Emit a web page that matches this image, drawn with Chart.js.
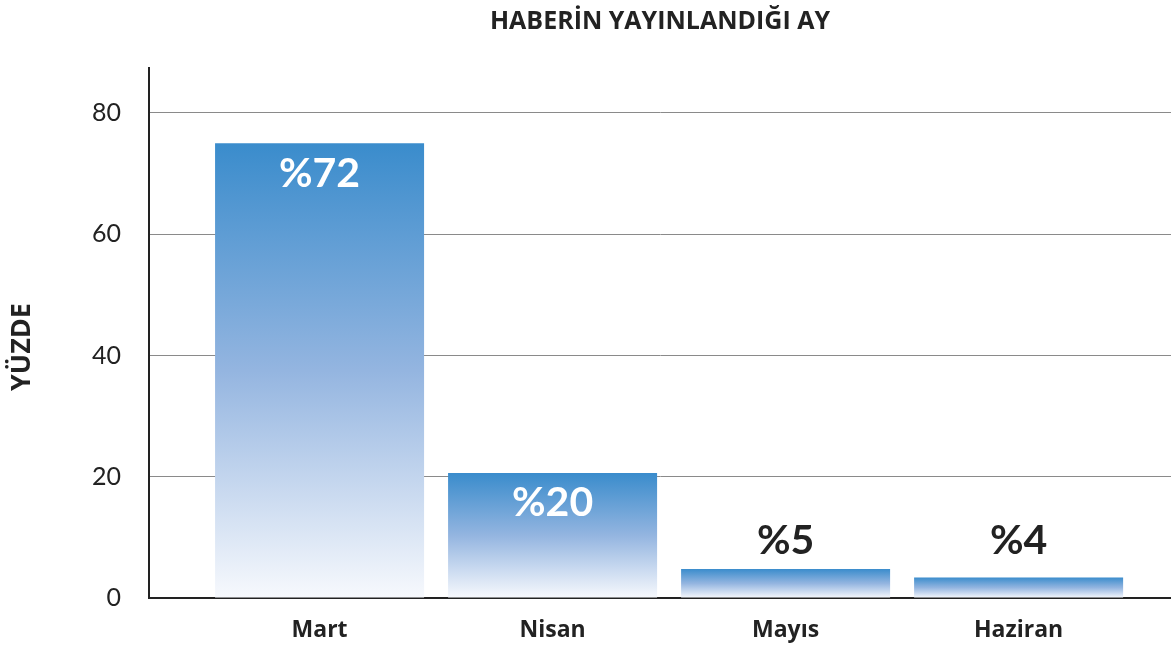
<!DOCTYPE html>
<html lang="tr">
<head>
<meta charset="utf-8">
<script src="https://cdn.jsdelivr.net/npm/chart.js@4"></script>
<style>
  html, body { margin: 0; padding: 0; background: #fff; }
  #kutu { width: 1171px; height: 646px; }
</style>
</head>
<body>
<div id="kutu"><canvas id="grafikAy"></canvas></div>
<script>
// Veriler
const aylar = ['Mart', 'Nisan', 'Mayıs', 'Haziran'];
const yuzdeler = [75, 20.6, 4.8, 3.4];
const etiketler = ['%72', '%20', '%5', '%4'];
const yTikleri = [0, 20, 40, 60, 80];

const yaziTipi = 'Lato, "Open Sans", sans-serif';
const kalinYazi = '"Open Sans", Lato, sans-serif';

// Çubuk içi / üstü yüzde etiketleri
const etiketEklentisi = {
  id: 'etiketEklentisi',
  afterDatasetsDraw(chart) {
    const { ctx, scales } = chart;
    const meta = chart.getDatasetMeta(0);
    ctx.save();
    ctx.font = 'bold 41px ' + yaziTipi;
    ctx.textAlign = 'center';
    ctx.textBaseline = 'middle';
    meta.data.forEach((bar, i) => {
      if (yuzdeler[i] > 15) {
        ctx.fillStyle = '#ffffff';
        ctx.fillText(etiketler[i], bar.x, bar.y + 30);
      } else {
        ctx.fillStyle = '#222222';
        ctx.fillText(etiketler[i], bar.x, scales.y.getPixelForValue(9.4));
      }
    });
    ctx.restore();
  }
};

const ctx = document.getElementById('grafikAy').getContext('2d');

new Chart(ctx, {
  type: 'bar',
  data: {
    datasets: [{
      data: yuzdeler.map((v, i) => ({ x: i, y: v })),
      backgroundColor: (c) => {
        const chart = c.chart;
        if (!chart.chartArea || c.type !== 'data') return '#3a8ccc';
        const y = chart.scales.y;
        const ust = y.getPixelForValue(c.raw.y);
        const alt = y.getPixelForValue(0);
        const g = chart.ctx.createLinearGradient(0, ust, 0, alt);
        g.addColorStop(0, '#3a8ccc');
        g.addColorStop(0.5, '#94b5e0');
        g.addColorStop(1, '#f7f9fd');
        return g;
      },
      borderWidth: 0,
      barPercentage: 0.897,
      categoryPercentage: 1
    }]
  },
  options: {
    responsive: true,
    maintainAspectRatio: false,
    animation: false,
    layout: { padding: { left: 6, right: 0, bottom: 0 } },
    scales: {
      x: {
        type: 'linear',
        offset: false,
        min: -0.732,
        max: 3.654,
        grid: { display: false, drawTicks: false },
        border: { display: true, color: '#222', width: 2 },
        ticks: {
          stepSize: 1,
          includeBounds: false,
          autoSkip: false,
          maxRotation: 0,
          padding: 19,
          color: '#222',
          font: { family: kalinYazi, size: 23, weight: 'bold' },
          callback: (v) => aylar[v] ?? ''
        },
        afterFit: (s) => { s.height = 48; }
      },
      y: {
        min: 0,
        max: 87.42,
        afterBuildTicks: (s) => { s.ticks = yTikleri.map(v => ({ value: v })); },
        grid: { color: '#8a8a8a', lineWidth: 1, drawTicks: false },
        border: { display: true, color: '#222', width: 2 },
        ticks: {
          padding: 28,
          color: '#222',
          font: { family: yaziTipi, size: 25 }
        },
        title: {
          display: true,
          text: 'YÜZDE\u00A0\u00A0\u00A0\u00A0',
          color: '#222',
          padding: 0,
          font: { family: kalinYazi, size: 27, weight: 'bold' }
        },
        afterFit: (s) => { s.width = 143; }
      }
    },
    plugins: {
      legend: { display: false },
      tooltip: { enabled: false },
      title: {
        display: true,
        fullSize: false,
        text: 'HABERİN YAYINLANDIĞI AY',
        color: '#222',
        font: { family: kalinYazi, size: 25, weight: 'bold' },
        padding: { top: 7, bottom: 31 }
      }
    }
  },
  plugins: [etiketEklentisi]
});
</script>
</body>
</html>
